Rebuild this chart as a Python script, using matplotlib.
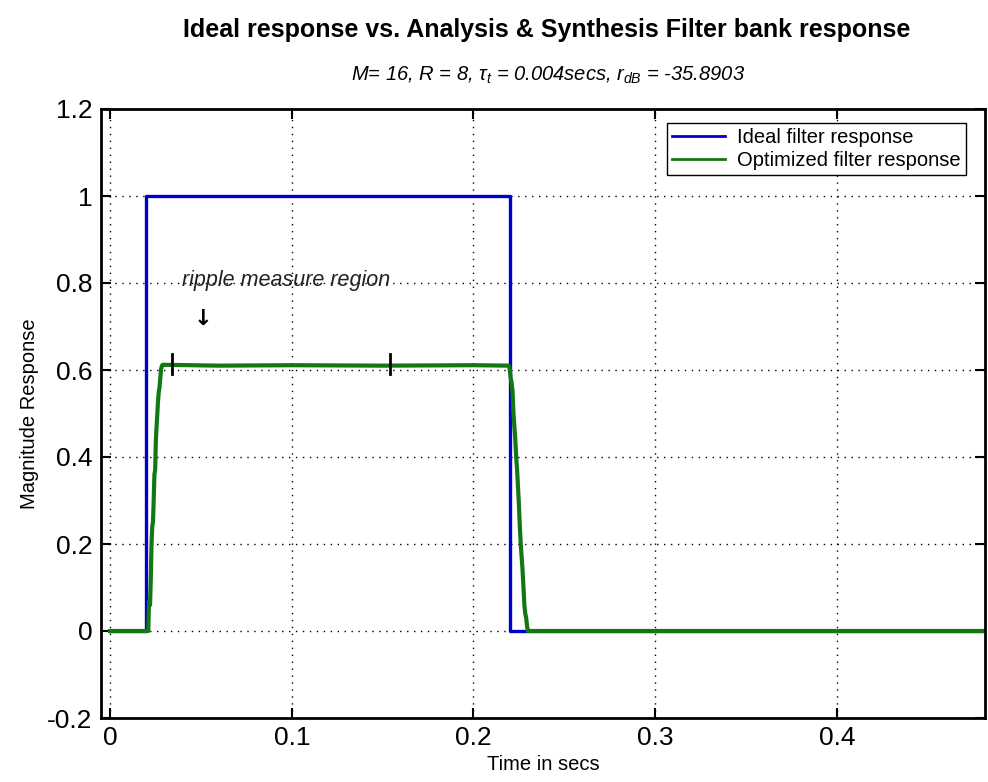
import matplotlib.pyplot as plt

plt.rcParams["font.family"] = ["Liberation Sans", "DejaVu Sans"]
plt.rcParams["mathtext.fontset"] = "custom"
plt.rcParams["mathtext.it"] = "Liberation Sans:italic"
plt.rcParams["mathtext.rm"] = "Liberation Sans:italic"

# ideal (brick-wall) response
ideal_t = [0.0, 0.0199, 0.0199, 0.0200, 0.0200, 0.2199, 0.2199, 0.2200, 0.2200, 0.48]
ideal_y = [0.0, 0.0, 0.5, 0.5, 1.0, 1.0, 0.5, 0.5, 0.0, 0.0]

# analysis/synthesis filter bank output
opt_t = [0.0, 0.0210, 0.0213, 0.0216, 0.0220, 0.0224, 0.0228, 0.0232, 0.0236,
         0.0240, 0.0244, 0.0248, 0.0252, 0.0256, 0.0260, 0.0264, 0.0268,
         0.0272, 0.0276, 0.0280, 0.0285, 0.0290, 0.0600, 0.1000, 0.1500,
         0.2000, 0.2195, 0.2200, 0.2205, 0.2210, 0.2215, 0.2220, 0.2225,
         0.2230, 0.2235, 0.2240, 0.2245, 0.2250, 0.2255, 0.2260, 0.2265,
         0.2270, 0.2275, 0.2280, 0.2285, 0.2290, 0.2295, 0.2300, 0.48]
opt_y = [0.0, 0.0, 0.05, 0.07, 0.06, 0.12, 0.20, 0.24, 0.25, 0.30, 0.36,
         0.37, 0.44, 0.47, 0.50, 0.53, 0.55, 0.56, 0.58, 0.60, 0.61, 0.612,
         0.610, 0.611, 0.610, 0.611, 0.610, 0.60, 0.58, 0.57, 0.55, 0.50,
         0.47, 0.44, 0.40, 0.37, 0.33, 0.29, 0.24, 0.20, 0.17, 0.14, 0.10,
         0.06, 0.04, 0.03, 0.01, 0.0, 0.0]

# ripple measurement window markers
ripple_t = [0.034, 0.154]
ripple_level = 0.614

W, H = 988, 782
fig = plt.figure(figsize=(W / 100, H / 100), dpi=100)
ax = fig.add_axes([101 / W, 1 - 718 / H, (985 - 101) / W, (718 - 109) / H])

ax.plot(ideal_t, ideal_y, color="#0000cc", lw=2.4, label="Ideal filter response")
ax.plot(opt_t, opt_y, color="#137813", lw=3.0, label="Optimized filter response")
for t in ripple_t:
    ax.plot([t, t], [ripple_level - 0.023, ripple_level + 0.023], color="black", lw=2)

ax.text(0.0395, 0.805, "ripple measure region", fontsize=15.5, style="italic",
        color="#222222", va="center", ha="left")
ax.text(0.051, 0.718, "\u2193", fontsize=16, fontweight="bold",
        family="DejaVu Sans", ha="center", va="center")

ax.set_xlim(-0.005, 0.4815)
ax.set_ylim(-0.2, 1.2)
ax.set_xticks([0, 0.1, 0.2, 0.3, 0.4])
ax.set_xticklabels(["0", "0.1", "0.2", "0.3", "0.4"])
ax.set_yticks([-0.2, 0, 0.2, 0.4, 0.6, 0.8, 1.0, 1.2])
ax.set_yticklabels(["-0.2", "0", "0.2", "0.4", "0.6", "0.8", "1", "1.2"])
ax.tick_params(direction="in", labelsize=19, length=7, width=1.5,
               top=True, right=True, pad=6)
ax.grid(True, linestyle=(0, (1, 4)), color="black", lw=1)
for s in ax.spines.values():
    s.set_linewidth(2)

ax.set_xlabel("Time in secs", fontsize=14.5, labelpad=3)
ax.set_ylabel("Magnitude Response", fontsize=14.5, labelpad=6)

leg = ax.legend(loc="upper right", fontsize=14.5, fancybox=False,
                edgecolor="black", framealpha=1, handlelength=2.6,
                handletextpad=0.6, bbox_to_anchor=(0.978, 0.977),
                borderaxespad=0, borderpad=0.25, labelspacing=0.18)
leg.get_frame().set_linewidth(1)
for line in leg.get_lines():
    line.set_linewidth(2)

fig.text(547 / W, 1 - 30 / H, "Ideal response vs. Analysis & Synthesis Filter bank response",
         fontsize=18, fontweight="bold", ha="center", va="center")
fig.text(548 / W, 1 - 75 / H, r"M= 16, R = 8, $\tau_t$ = 0.004secs, $r_{dB}$ = -35.8903",
         fontsize=14.5, style="italic", ha="center", va="center")

fig.savefig("out.png", dpi=100)
